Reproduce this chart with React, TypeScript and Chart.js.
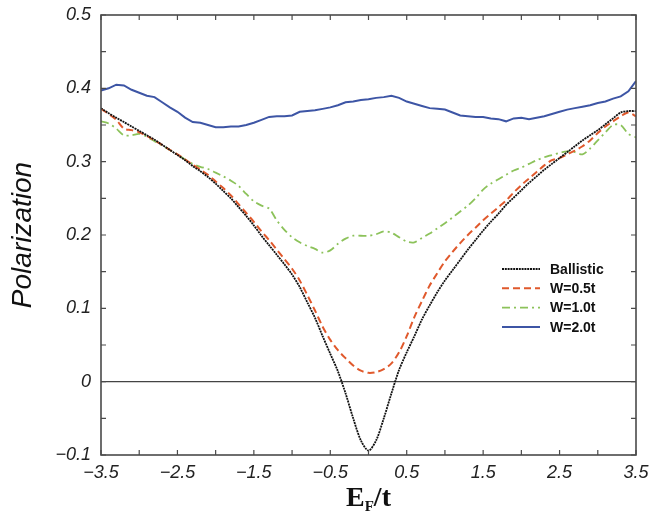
import React, { useEffect, useRef } from "react";
import { Chart, registerables } from "chart.js";

Chart.register(...registerables);

const energies = [
  -3.5, -3.4, -3.3, -3.2, -3.1, -3.0, -2.9, -2.8, -2.7, -2.6, -2.5, -2.4, -2.3, -2.2, -2.1, -2.0,
  -1.9, -1.8, -1.7, -1.6, -1.5, -1.4, -1.3, -1.2, -1.1, -1.0, -0.9, -0.8, -0.7, -0.6, -0.5, -0.4,
  -0.3, -0.2, -0.1, 0.0, 0.1, 0.2, 0.3, 0.4, 0.5, 0.6, 0.7, 0.8, 0.9, 1.0, 1.1, 1.2, 1.3, 1.4,
  1.5, 1.6, 1.7, 1.8, 1.9, 2.0, 2.1, 2.2, 2.3, 2.4, 2.5, 2.6, 2.7, 2.8, 2.9, 3.0, 3.1, 3.2, 3.3,
  3.4, 3.5,
];

const ballistic = [
  0.373, 0.366, 0.36, 0.354, 0.348, 0.342, 0.336, 0.33, 0.323, 0.316, 0.309, 0.302, 0.294, 0.287, 0.279, 0.27,
  0.26, 0.25, 0.238, 0.226, 0.213, 0.199, 0.186, 0.173, 0.16, 0.146, 0.129, 0.108, 0.087, 0.062, 0.038, 0.014,
  -0.016, -0.05, -0.08, -0.094, -0.08, -0.05, -0.016, 0.016, 0.04, 0.062, 0.085, 0.104, 0.122, 0.138, 0.152, 0.166, 0.18, 0.193,
  0.206, 0.218, 0.229, 0.241, 0.251, 0.261, 0.271, 0.28, 0.289, 0.297, 0.305, 0.313, 0.321, 0.329, 0.336, 0.343, 0.351, 0.359, 0.367,
  0.369, 0.369,
];

const w05 = [
  0.372, 0.365, 0.357, 0.345, 0.343, 0.34, 0.335, 0.329, 0.323, 0.316, 0.31, 0.303, 0.296, 0.289, 0.282, 0.273,
  0.264, 0.254, 0.242, 0.23, 0.218, 0.205, 0.193, 0.18, 0.167, 0.154, 0.138, 0.118, 0.097, 0.075, 0.057, 0.043,
  0.032, 0.022, 0.015, 0.012, 0.013, 0.017, 0.025, 0.04, 0.062, 0.088, 0.11, 0.131, 0.148, 0.164, 0.177, 0.189, 0.2, 0.21,
  0.22, 0.229, 0.238, 0.247, 0.258, 0.268, 0.277, 0.286, 0.295, 0.302, 0.305, 0.31, 0.315, 0.321, 0.329, 0.339, 0.348, 0.355, 0.362,
  0.367, 0.362,
];

const w10 = [
  0.355, 0.352, 0.345, 0.336, 0.336, 0.338, 0.334, 0.328, 0.322, 0.316, 0.31, 0.303, 0.297, 0.293, 0.29, 0.285,
  0.28, 0.274, 0.267, 0.256, 0.246, 0.24, 0.236, 0.22, 0.207, 0.197, 0.19, 0.185, 0.181, 0.176, 0.179, 0.188,
  0.195, 0.199, 0.199, 0.199, 0.201, 0.205, 0.203, 0.197, 0.191, 0.19, 0.196, 0.202, 0.209, 0.216, 0.224, 0.232, 0.24, 0.25,
  0.262, 0.27, 0.276, 0.282, 0.288, 0.292, 0.297, 0.302, 0.306, 0.309, 0.312, 0.314, 0.313, 0.31, 0.318, 0.329, 0.34, 0.35, 0.35,
  0.338, 0.333,
];

const w20 = [
  0.397, 0.4, 0.405, 0.404, 0.398, 0.394, 0.39, 0.388, 0.381, 0.374, 0.368, 0.36, 0.354, 0.353, 0.35, 0.347,
  0.347, 0.348, 0.348, 0.35, 0.353, 0.357, 0.361, 0.362, 0.362, 0.363, 0.368, 0.369, 0.37, 0.372, 0.374, 0.377,
  0.381, 0.382, 0.384, 0.385, 0.387, 0.388, 0.39, 0.387, 0.382, 0.379, 0.376, 0.373, 0.372, 0.371, 0.367, 0.363, 0.362, 0.361,
  0.361, 0.359, 0.358, 0.355, 0.359, 0.36, 0.358, 0.36, 0.362, 0.365, 0.368, 0.371, 0.373, 0.375, 0.377, 0.38, 0.382, 0.386, 0.389,
  0.396, 0.41,
];

const seriesLabels = ["Ballistic", "W=0.5t", "W=1.0t", "W=2.0t"];

const xMin = -3.5;
const xMax = 3.5;
const yMin = -0.1;
const yMax = 0.5;

const fmt = (v: number, digits: number) => {
  const s = Math.abs(v) < 1e-9 ? "0" : Math.abs(v).toFixed(digits);
  return v < -1e-9 ? "\u2212" + s : s;
};

const framePlugin = {
  id: "frameAndExtras",
  afterDraw(chart: any) {
    const { ctx, chartArea: a, scales } = chart;
    const xs = scales.x;
    const ys = scales.y;
    ctx.save();
    ctx.strokeStyle = "#4a4a4a";
    ctx.lineWidth = 1.6;
    ctx.setLineDash([]);
    ctx.strokeRect(a.left, a.top, a.right - a.left, a.bottom - a.top);
    const tl = 5;
    ctx.lineWidth = 1.2;
    ctx.beginPath();
    xs.ticks.forEach((t: any) => {
      const px = xs.getPixelForValue(t.value);
      ctx.moveTo(px, a.bottom);
      ctx.lineTo(px, a.bottom - tl);
      ctx.moveTo(px, a.top);
      ctx.lineTo(px, a.top + tl);
    });
    ys.ticks.forEach((t: any) => {
      const py = ys.getPixelForValue(t.value);
      ctx.moveTo(a.left, py);
      ctx.lineTo(a.left + tl, py);
      ctx.moveTo(a.right, py);
      ctx.lineTo(a.right - tl, py);
    });
    ctx.stroke();

    const lx0 = a.right - 134;
    const lx1 = a.right - 96;
    const tx = a.right - 86;
    const ly0 = a.top + 254;
    const dy = 19.3;
    ctx.font = 'bold 14px "Liberation Sans", Arial, sans-serif';
    ctx.textBaseline = "middle";
    ctx.textAlign = "left";
    chart.data.datasets.forEach((ds: any, i: number) => {
      const y = ly0 + i * dy;
      ctx.strokeStyle = ds.borderColor;
      ctx.lineWidth = ds.borderWidth;
      ctx.setLineDash(ds.borderDash || []);
      ctx.beginPath();
      ctx.moveTo(lx0, y);
      ctx.lineTo(lx1, y);
      ctx.stroke();
      ctx.setLineDash([]);
      ctx.fillStyle = "#111";
      ctx.fillText(ds.label, tx, y + 1);
    });

    const big = 'bold 28px "Liberation Serif", "Times New Roman", serif';
    const small = 'bold 15px "Liberation Serif", "Times New Roman", serif';
    ctx.textBaseline = "alphabetic";
    ctx.fillStyle = "#111";
    ctx.font = big;
    const wE = ctx.measureText("E").width;
    const wT = ctx.measureText("/t").width;
    ctx.font = small;
    const wF = ctx.measureText("F").width;
    const total = wE + wF + wT;
    const cx = (a.left + a.right) / 2;
    const base = 506;
    let x = cx - total / 2;
    ctx.font = big;
    ctx.fillText("E", x, base);
    x += wE;
    ctx.font = small;
    ctx.fillText("F", x, base + 5);
    x += wF;
    ctx.font = big;
    ctx.fillText("/t", x, base);
    ctx.restore();
  },
};

export default function App() {
  const ref = useRef<HTMLCanvasElement | null>(null);
  useEffect(() => {
    if (!ref.current) return;
    const mk = (arr: number[]) => energies.map((x, i) => ({ x, y: arr[i] }));
    const chart = new Chart(ref.current, {
      type: "line",
      data: {
        datasets: [
          {
            label: seriesLabels[0],
            data: mk(ballistic),
            borderColor: "#111111",
            borderWidth: 1.8,
            borderDash: [2, 0.8],
            pointRadius: 0,
            tension: 0.3,
          },
          {
            label: seriesLabels[1],
            data: mk(w05),
            borderColor: "#e0592c",
            borderWidth: 2,
            borderDash: [7, 4],
            pointRadius: 0,
            tension: 0.3,
          },
          {
            label: seriesLabels[2],
            data: mk(w10),
            borderColor: "#8cc25a",
            borderWidth: 1.8,
            borderDash: [8, 4, 2, 4],
            pointRadius: 0,
            tension: 0.3,
          },
          {
            label: seriesLabels[3],
            data: mk(w20),
            borderColor: "#3d55a5",
            borderWidth: 2,
            pointRadius: 0,
            tension: 0,
          },
        ],
      },
      options: {
        animation: false,
        responsive: false,
        layout: { padding: { top: 15, right: 14, left: 0, bottom: 0 } },
        plugins: {
          legend: { display: false },
          tooltip: { enabled: false },
        },
        scales: {
          x: {
            type: "linear",
            min: xMin,
            max: xMax,
            border: { display: false },
            grid: { display: false, drawTicks: false },
            ticks: {
              stepSize: 0.5,
              autoSkip: false,
              maxRotation: 0,
              padding: 7,
              color: "#222",
              font: { family: '"Liberation Sans", Arial, sans-serif', size: 18, style: "italic" },
              callback: (v: any) => {
                const n = Math.round(Number(v) * 2);
                return Math.abs(n) % 2 === 1 ? fmt(Number(v), 1) : "";
              },
            },
            afterFit: (s: any) => {
              s.height = 57;
              s.paddingLeft = 0;
              s.paddingRight = 0;
            },
          },
          y: {
            type: "linear",
            min: yMin,
            max: yMax,
            border: { display: false },
            grid: {
              drawTicks: false,
              lineWidth: 1.3,
              color: (c: any) => (c.tick && Math.abs(c.tick.value) < 1e-9 ? "#444" : "rgba(0,0,0,0)"),
            },
            ticks: {
              stepSize: 0.05,
              autoSkip: false,
              padding: 10,
              color: "#222",
              font: { family: '"Liberation Sans", Arial, sans-serif', size: 18, style: "italic" },
              callback: (v: any) => {
                const n = Math.round(Number(v) * 20);
                return n % 2 === 0 ? fmt(Number(v), Math.abs(Number(v)) < 1e-9 ? 0 : 1) : "";
              },
            },
            title: {
              display: true,
              text: "Polarization",
              color: "#111",
              padding: { top: 6, bottom: 0 },
              font: { family: '"Liberation Sans", Arial, sans-serif', size: 28, style: "italic" },
            },
            afterFit: (s: any) => {
              s.width = 101;
              s.paddingTop = 0;
              s.paddingBottom = 0;
            },
          },
        },
      },
      plugins: [framePlugin],
    });
    return () => chart.destroy();
  }, []);
  return (
    <div style={{ position: "fixed", left: 0, top: 0, width: 650, height: 512, background: "#fff" }}>
      <canvas ref={ref} width={650} height={512} style={{ width: 650, height: 512, display: "block" }} />
    </div>
  );
}
